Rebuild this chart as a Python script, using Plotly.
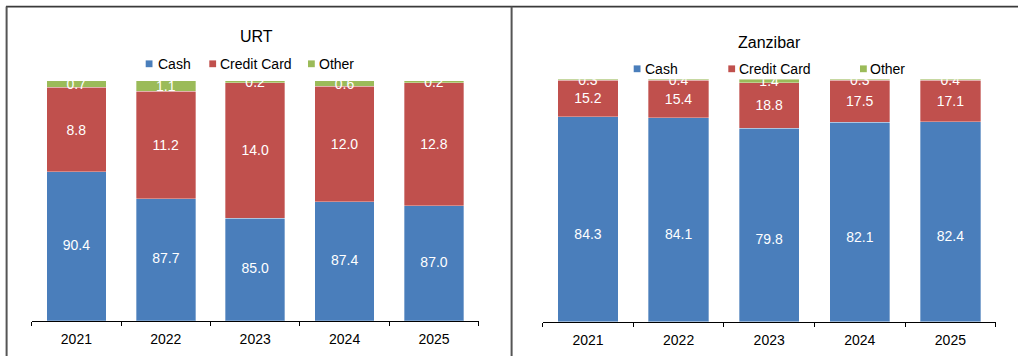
import plotly.graph_objects as go

# ---- data -------------------------------------------------------------
years = ["2021", "2022", "2023", "2024", "2025"]
series_names = ["Cash", "Credit Card", "Other"]

urt_cash = [90.4, 87.7, 85.0, 87.4, 87.0]
urt_credit = [8.8, 11.2, 14.0, 12.0, 12.8]
urt_other = [0.7, 1.1, 0.2, 0.6, 0.2]

zan_cash = [84.3, 84.1, 79.8, 82.1, 82.4]
zan_credit = [15.2, 15.4, 18.8, 17.5, 17.1]
zan_other = [0.3, 0.4, 1.4, 0.3, 0.4]

colors = ["#4A7EBB", "#C0504D", "#9BBB59"]

# ---- canvas helpers ---------------------------------------------------
W, H = 1018, 356
FONT = "Liberation Sans, Arial, Helvetica, sans-serif"


def px(x):
    return x / W


def py(y):
    return 1 - y / H


panels = [
    dict(title="URT", values=[urt_cash, urt_credit, urt_other], xa="x", ya="y",
         xdom=[px(31.7), px(478.7)], ydom=[py(320.7), py(80.7)],
         yrange=[75, 100], base_label_frac=0.5, title_xy=(256.7, 36.0),
         legend_sq=[145.7, 209.3, 308.0], legend_tx=[156.5, 218.5, 317.5],
         legend_y=63.8),
    dict(title="Zanzibar", values=[zan_cash, zan_credit, zan_other], xa="x2", ya="y2",
         xdom=[px(542.7), px(995.7)], ydom=[py(321.7), py(79.3)],
         yrange=[0, 100], base_label_frac=0.42, title_xy=(769.7, 42.7),
         legend_sq=[633.7, 728.3, 860.0], legend_tx=[643.5, 738.2, 868.8],
         legend_y=68.8),
]

fig = go.Figure()
shapes = []
annotations = []
label_font = dict(family=FONT, size=14, color="white")

for p in panels:
    ymin = p["yrange"][0]
    totals = [sum(t) for t in zip(*p["values"])]
    for i, (name, vals, col) in enumerate(zip(series_names, p["values"], colors)):
        base_series = i == 0
        fig.add_trace(go.Bar(
            x=years, y=vals, name=name,
            xaxis=p["xa"], yaxis=p["ya"],
            marker=dict(color=col, line=dict(color="rgba(255,255,255,0.55)", width=0.6)),
            text=None if base_series else [f"{v:.1f}" for v in vals],
            textposition="inside", insidetextanchor="middle",
            textangle=0, constraintext="none",
            textfont=label_font,
            showlegend=False, hoverinfo="skip",
        ))
        if base_series:
            # labels of the bottom segment sit within the part that is shown
            # above the axis minimum
            shown = [v / t * 100 for v, t in zip(vals, totals)]
            label_y = [ymin + p["base_label_frac"] * (s - ymin) for s in shown]
            fig.add_trace(go.Scatter(
                x=years, y=label_y, mode="text",
                text=[f"{v:.1f}" for v in vals], textposition="middle center",
                textfont=label_font, xaxis=p["xa"], yaxis=p["ya"],
                showlegend=False, hoverinfo="skip",
            ))

    # panel title
    annotations.append(dict(
        text=p["title"], xref="paper", yref="paper",
        x=px(p["title_xy"][0]), y=py(p["title_xy"][1]),
        xanchor="center", yanchor="middle", showarrow=False,
        font=dict(family=FONT, size=16, color="black"),
    ))

    # legend: colour swatch + label for each series
    for name, col, sx, tx in zip(series_names, colors, p["legend_sq"], p["legend_tx"]):
        cy = p["legend_y"]
        shapes.append(dict(
            type="rect", xref="paper", yref="paper",
            x0=px(sx), x1=px(sx + 6.8), y0=py(cy + 3.4), y1=py(cy - 3.4),
            fillcolor=col, line=dict(width=0),
        ))
        annotations.append(dict(
            text=name, xref="paper", yref="paper",
            x=px(tx - 1), y=py(cy), xanchor="left", yanchor="middle",
            showarrow=False, font=dict(family=FONT, size=14, color="black"),
        ))

# frame lines around the two panels
frame = dict(color="#3a3a3a", width=1.6)
shapes += [
    dict(type="line", xref="paper", yref="paper", x0=px(6.0), x1=1.0,
         y0=py(6.6), y1=py(6.6), line=frame),
    dict(type="line", xref="paper", yref="paper", x0=px(6.6), x1=px(6.6),
         y0=0, y1=py(6.6), line=dict(color="#555555", width=2)),
    dict(type="line", xref="paper", yref="paper", x0=px(511.6), x1=px(511.6),
         y0=0, y1=py(6.6), line=dict(color="#555555", width=2)),
]

xaxis_style = dict(
    type="category", categoryorder="array", categoryarray=years,
    range=[-0.5, 4.5], showline=True, linecolor="black", linewidth=1,
    ticks="outside", tickson="boundaries", ticklen=4, tickcolor="black",
    tickwidth=1, showgrid=False, zeroline=False, fixedrange=True,
    ticklabelstandoff=5,
    tickfont=dict(family=FONT, size=14, color="black"),
)

fig.update_layout(
    width=W, height=H, margin=dict(l=0, r=0, t=0, b=0),
    paper_bgcolor="white", plot_bgcolor="white",
    barmode="stack", barnorm="percent", bargap=0.335,
    showlegend=False,
    xaxis=dict(domain=panels[0]["xdom"], anchor="y", **xaxis_style),
    yaxis=dict(domain=panels[0]["ydom"], anchor="x", range=panels[0]["yrange"],
               visible=False, fixedrange=True),
    xaxis2=dict(domain=panels[1]["xdom"], anchor="y2", **xaxis_style),
    yaxis2=dict(domain=panels[1]["ydom"], anchor="x2", range=panels[1]["yrange"],
                visible=False, fixedrange=True),
    shapes=shapes, annotations=annotations,
)

fig.write_html("out.html")
